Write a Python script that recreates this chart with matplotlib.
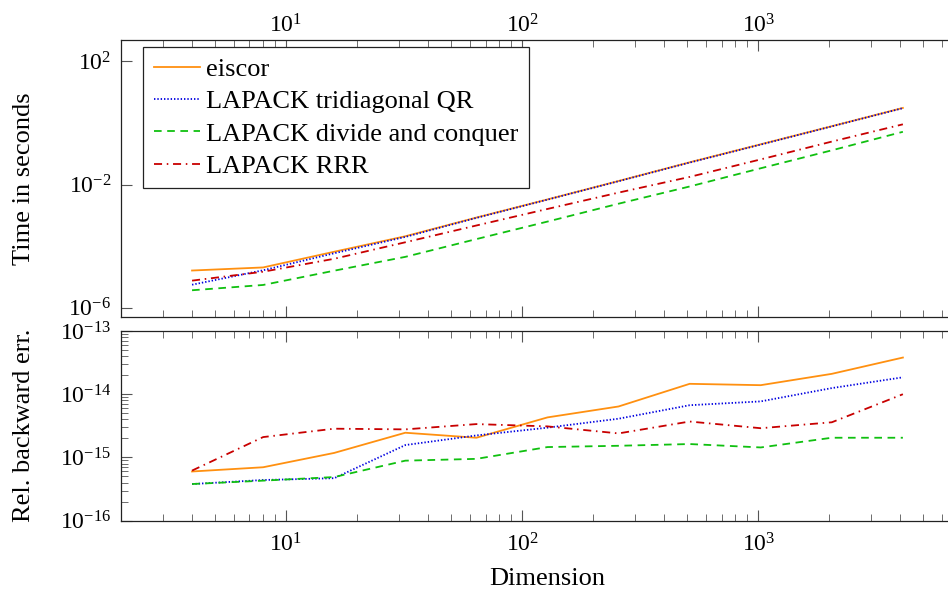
import matplotlib
matplotlib.use("Agg")
import matplotlib.pyplot as plt
from matplotlib.ticker import LogLocator, NullFormatter, FixedLocator

plt.rcParams['font.family'] = ['Liberation Serif', 'DejaVu Serif']
plt.rcParams['mathtext.fontset'] = 'cm'
plt.rcParams['lines.scale_dashes'] = False

# problem sizes
dims = [4, 8, 16, 32, 64, 128, 256, 512, 1024, 2048, 4096]

# runtime in seconds
time_eiscor = [1.62e-5, 2.04e-5, 6.6e-5, 2.1e-4, 8.5e-4, 3.3e-3, 1.31e-2, 5.3e-2, 0.204, 0.79, 3.1]
time_qr = [5.6e-6, 1.65e-5, 5.9e-5, 2.0e-4, 8.3e-4, 3.25e-3, 1.29e-2, 5.2e-2, 0.20, 0.78, 3.05]
time_dc = [3.7e-6, 5.5e-6, 1.6e-5, 4.5e-5, 1.7e-4, 6.3e-4, 2.4e-3, 8.7e-3, 3.4e-2, 0.13, 0.52]
time_rrr = [7.6e-6, 1.48e-5, 3.9e-5, 1.34e-4, 4.7e-4, 1.62e-3, 5.5e-3, 1.78e-2, 6.6e-2, 0.25, 0.91]

# relative backward error
err_eiscor = [6.0e-16, 7.0e-16, 1.18e-15, 2.46e-15, 2.05e-15, 4.3e-15, 6.4e-15, 1.46e-14, 1.39e-14, 2.1e-14, 3.8e-14]
err_qr = [3.8e-16, 4.4e-16, 4.7e-16, 1.57e-15, 2.23e-15, 2.96e-15, 4.1e-15, 6.7e-15, 7.7e-15, 1.25e-14, 1.85e-14]
err_dc = [3.8e-16, 4.3e-16, 4.9e-16, 8.9e-16, 9.5e-16, 1.46e-15, 1.53e-15, 1.63e-15, 1.44e-15, 2.05e-15, 2.05e-15]
err_rrr = [6.2e-16, 2.1e-15, 2.85e-15, 2.78e-15, 3.37e-15, 3.1e-15, 2.4e-15, 3.7e-15, 2.9e-15, 3.6e-15, 1.0e-14]

labels = ['eiscor', 'LAPACK tridiagonal QR', 'LAPACK divide and conquer', 'LAPACK RRR']
colors = ['#ff9010', '#0000e0', '#10c010', '#c80000']
dashes = ['-', (0, (1.0, 1.4)), (0, (5.5, 4.0)), (0, (5.8, 3.4, 1.1, 3.4))]

fig = plt.figure(figsize=(9.48, 5.94), dpi=100)
ax1 = fig.add_axes([0.1276, 0.4663, 0.8998, 0.4664])
ax2 = fig.add_axes([0.1276, 0.1234, 0.8998, 0.3194])

for ys, lab, c, ls in zip([time_eiscor, time_qr, time_dc, time_rrr], labels, colors, dashes):
    ax1.plot(dims, ys, color=c, linestyle=ls, lw=1.3, label=lab)
for ys, c, ls in zip([err_eiscor, err_qr, err_dc, err_rrr], colors, dashes):
    ax2.plot(dims, ys, color=c, linestyle=ls, lw=1.3)

for ax in (ax1, ax2):
    ax.set_xscale('log')
    ax.set_yscale('log')
    ax.set_xlim(2, 8192)
    ax.xaxis.set_major_locator(LogLocator(base=10, numticks=10))
    ax.xaxis.set_minor_locator(LogLocator(base=10, subs=range(2, 10), numticks=20))
    ax.xaxis.set_minor_formatter(NullFormatter())
    ax.tick_params(which='both', direction='in', top=True, right=True, color='#555555')
    ax.tick_params(which='major', length=8, width=0.8, labelsize=17)
    ax.tick_params(which='minor', length=5, width=0.6)
    ax.tick_params(axis='y', which='major', pad=7)
    for s in ax.spines.values():
        s.set_linewidth(0.9)
        s.set_color('#222222')

ax1.set_ylim(5e-7, 5e2)
ax1.yaxis.set_major_locator(FixedLocator([1e-6, 1e-2, 1e2]))
ax1.yaxis.set_minor_locator(FixedLocator([]))
ax1.tick_params(axis='x', which='both', labelbottom=False, labeltop=True, pad=2)

ax2.set_ylim(1e-16, 1e-13)
ax2.yaxis.set_major_locator(LogLocator(base=10, numticks=10))
ax2.yaxis.set_minor_locator(LogLocator(base=10, subs=range(2, 10), numticks=20))
ax2.yaxis.set_minor_formatter(NullFormatter())
ax2.tick_params(axis='x', which='major', pad=9)

leg = ax1.legend(loc='upper left', bbox_to_anchor=(0.0258, 0.974), borderaxespad=0,
                 fontsize=19, frameon=True, fancybox=False, framealpha=1,
                 edgecolor='#222222', handlelength=1.75, handletextpad=0.25,
                 labelspacing=0.33, borderpad=0.4)
leg.get_frame().set_linewidth(0.9)

fig.text(24 / 948, 0.6995, 'Time in seconds', rotation=90, ha='center', va='center', fontsize=19)
fig.text(24 / 948, 0.2837, 'Rel. backward err.', rotation=90, ha='center', va='center', fontsize=19)
fig.text(547 / 948, 1 - 579 / 594, 'Dimension', ha='center', va='center', fontsize=19)

fig.savefig('out.png', dpi=100)
